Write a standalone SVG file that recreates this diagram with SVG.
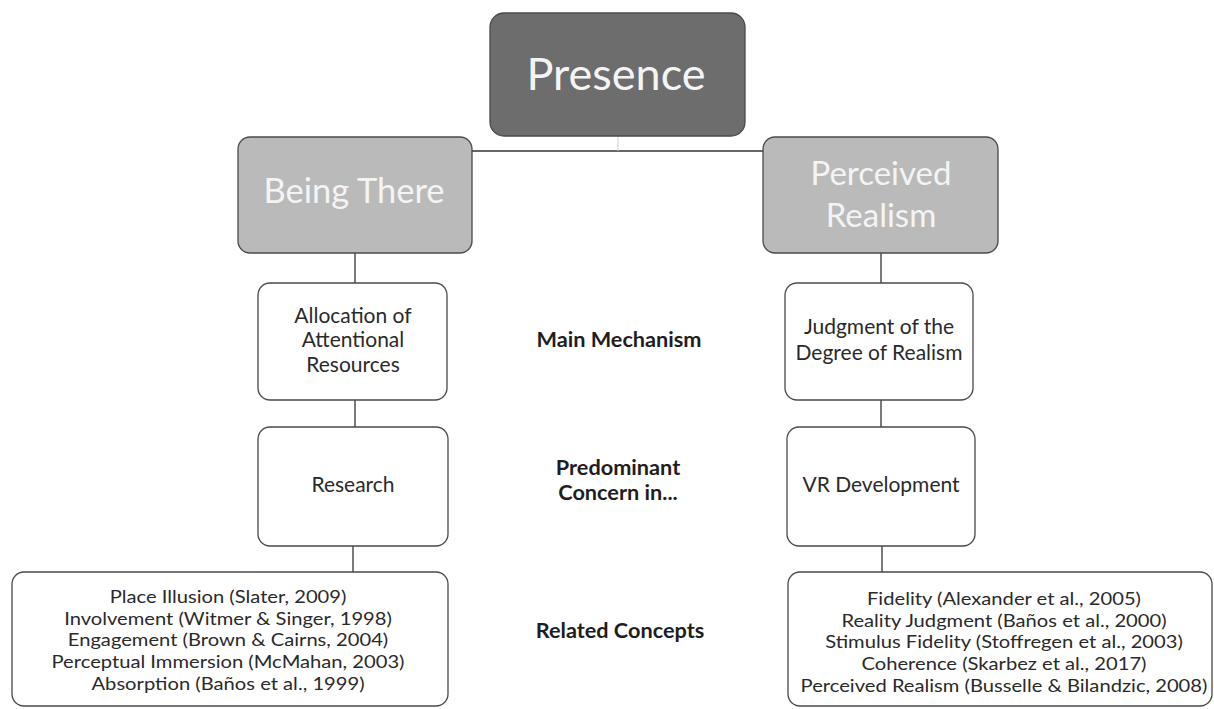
<svg xmlns="http://www.w3.org/2000/svg" width="1214" height="709" viewBox="0 0 1214 709">
<style>
.box{stroke:#4a4a4a;stroke-width:1.3}
.white{fill:#ffffff}
.t{font-family:Lato,"Open Sans",sans-serif;text-anchor:middle;fill:#2a2a2a}
.h{font-family:Lato,"Open Sans",sans-serif;text-anchor:middle;fill:#f4f4f4}
.b{font-family:Lato,"Open Sans",sans-serif;text-anchor:middle;fill:#1e1e1e;font-weight:bold;font-size:21.7px}
.s{font-size:18px}
.c{stroke:#333;stroke-width:1.3;fill:none}
</style>
<rect width="1214" height="709" fill="#ffffff"/>
<g id="connectors">
<line class="c" x1="472" y1="151" x2="764" y2="151"/>
<line x1="618" y1="136" x2="618" y2="151" stroke="#cfcfcf" stroke-width="1"/>
<line class="c" x1="355" y1="253" x2="355" y2="283"/>
<line class="c" x1="355" y1="400" x2="355" y2="427"/>
<line class="c" x1="353" y1="546" x2="353" y2="572"/>
<line class="c" x1="881" y1="253" x2="881" y2="283"/>
<line class="c" x1="881" y1="400" x2="881" y2="427"/>
<line class="c" x1="882" y1="546" x2="882" y2="572"/>
</g>
<g id="presence">
<rect class="box" x="490" y="13" width="255" height="123" rx="14" fill="#6d6d6d"/>
<text class="h" x="616" y="90" font-size="45">Presence</text>
</g>
<g id="being-there">
<rect class="box" x="238" y="137" width="234" height="116" rx="12" fill="#bababa"/>
<text class="h" x="354" y="203" font-size="34.5">Being There</text>
</g>
<g id="perceived-realism">
<rect class="box" x="763" y="137" width="235" height="116" rx="12" fill="#bababa"/>
<text class="h" x="881" y="185" font-size="33">Perceived</text>
<text class="h" x="881" y="227" font-size="33">Realism</text>
</g>
<g id="allocation">
<rect class="box white" x="258" y="283" width="189" height="117" rx="12"/>
<text class="t" x="353" y="323" font-size="21">Allocation of</text>
<text class="t" x="353" y="347" font-size="21">Attentional</text>
<text class="t" x="353" y="372" font-size="21">Resources</text>
</g>
<g id="judgment">
<rect class="box white" x="785" y="283" width="188" height="117" rx="12"/>
<text class="t" x="879" y="334" font-size="21">Judgment of the</text>
<text class="t" x="879" y="360" font-size="21">Degree of Realism</text>
</g>
<g id="research">
<rect class="box white" x="258" y="427" width="190" height="119" rx="12"/>
<text class="t" x="353" y="492" font-size="21">Research</text>
</g>
<g id="vr-development">
<rect class="box white" x="787" y="427" width="188" height="119" rx="12"/>
<text class="t" x="881" y="492" font-size="21">VR Development</text>
</g>
<g id="concepts-left">
<rect class="box white" x="12" y="572" width="436" height="134" rx="12"/>
<g transform="translate(228,0) scale(1.12,1)">
<text class="t s" x="0" y="603">Place Illusion (Slater, 2009)</text>
<text class="t s" x="0" y="625">Involvement (Witmer &amp; Singer, 1998)</text>
<text class="t s" x="0" y="646">Engagement (Brown &amp; Cairns, 2004)</text>
<text class="t s" x="0" y="668">Perceptual Immersion (McMahan, 2003)</text>
<text class="t s" x="0" y="690">Absorption (Baños et al., 1999)</text>
</g>
</g>
<g id="concepts-right">
<rect class="box white" x="788" y="572" width="424" height="134" rx="12"/>
<g transform="translate(1004,0) scale(1.12,1)">
<text class="t s" x="0" y="605">Fidelity (Alexander et al., 2005)</text>
<text class="t s" x="0" y="627">Reality Judgment (Baños et al., 2000)</text>
<text class="t s" x="0" y="648">Stimulus Fidelity (Stoffregen et al., 2003)</text>
<text class="t s" x="0" y="670">Coherence (Skarbez et al., 2017)</text>
<text class="t s" x="0" y="692">Perceived Realism (Busselle &amp; Bilandzic, 2008)</text>
</g>
</g>
<g id="labels">
<text class="b" x="619" y="347">Main Mechanism</text>
<text class="b" x="618" y="475">Predominant</text>
<text class="b" x="618" y="500">Concern in...</text>
<text class="b" x="620" y="638">Related Concepts</text>
</g>
</svg>
